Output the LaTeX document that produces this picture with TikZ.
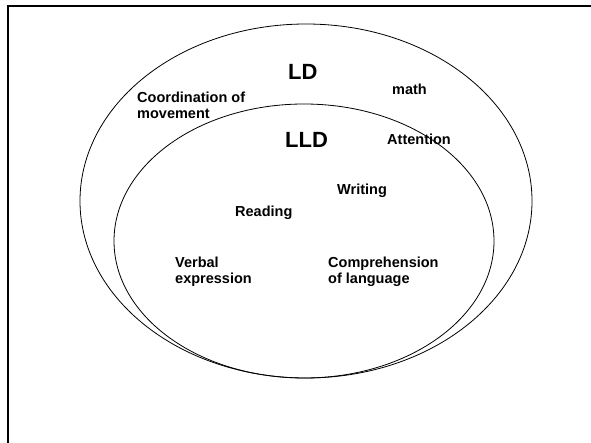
\documentclass[tikz,border=0pt]{standalone}
\usepackage{fontspec}
\setmainfont{Liberation Sans}
\begin{document}
\begin{tikzpicture}[x=1pt,y=-1pt,
  lbl/.style={font=\bfseries\fontsize{14.5}{15.5}\selectfont,inner sep=0pt,anchor=base west,align=left},
  big/.style={font=\bfseries\fontsize{22}{24}\selectfont,inner sep=0pt,anchor=base west},
  ring/.style={draw=black,line width=0.8pt}]
  \useasboundingbox (0,0) rectangle (591,443);
  \fill[white] (0,0) rectangle (591,443);
  % slide frame (left and top edges)
  \draw[line width=2.2pt] (8,443) -- (8,6) -- (591,6);
  % outer set LD and inner set LLD
  \draw[ring] (306,201) ellipse [x radius=226, y radius=177];
  \draw[ring] (304,241) ellipse [x radius=190, y radius=137];
  % set titles
  \node[big] (ld) at (288,80) {LD};
  \node[big] (lld) at (285,148) {LLD};
  % members (two-line labels are placed by the baseline of their last line)
  \node[lbl] (coord) at (137,118.5) {Coordination of\\movement};
  \node[lbl] (math) at (392,95) {math};
  \node[lbl] (att) at (387,145) {Attention};
  \node[lbl] (writ) at (337,195) {Writing};
  \node[lbl] (read) at (235,217) {Reading};
  \node[lbl] (verb) at (175,283.5) {Verbal\\expression};
  \node[lbl] (comp) at (328,283.5) {Comprehension\\of language};
\end{tikzpicture}
\end{document}
